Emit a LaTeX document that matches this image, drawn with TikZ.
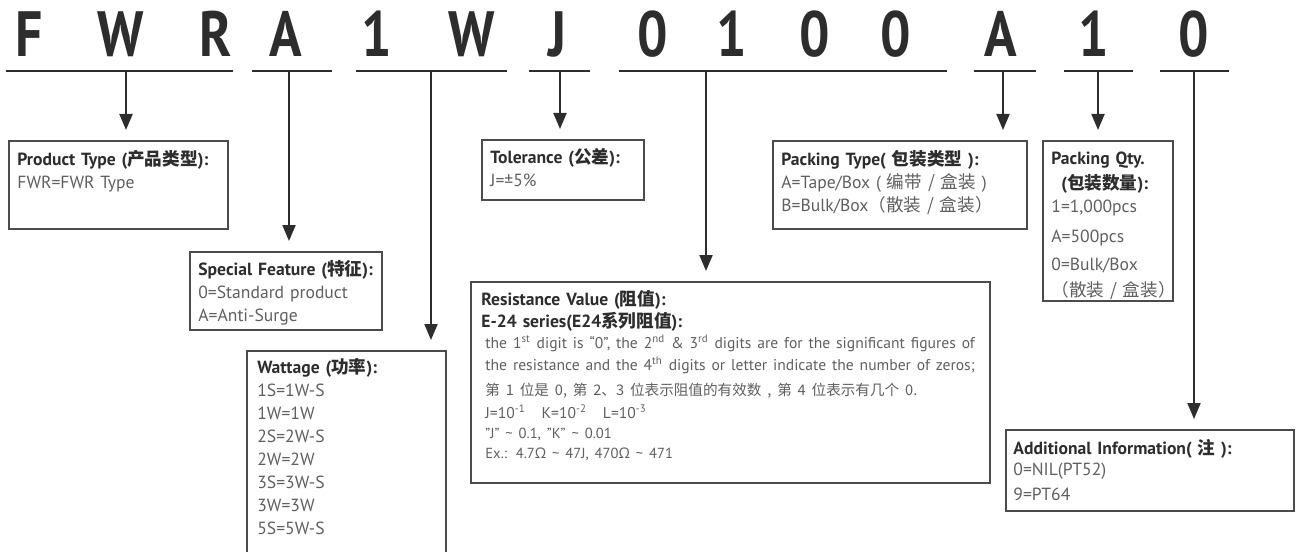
\documentclass[tikz,border=0pt]{standalone}
\usepackage{fontspec}
\usepackage{xcolor}
\usepackage{graphicx}
\usepackage{tikz}
\usetikzlibrary{positioning,arrows.meta,calc}
\setmainfont{PT Sans}
\newfontfamily\cjk{Noto Sans CJK SC}
\newfontfamily\grk{Open Sans}
\definecolor{ink}{RGB}{45,45,45}
\definecolor{txt}{RGB}{95,95,97}
\definecolor{frm}{RGB}{75,75,75}
\newcommand{\zh}[1]{{\cjk #1}}
\newcommand{\hd}[1]{{\bfseries\color{ink}#1}}
\newcommand{\cond}[1]{\scalebox{0.84}[1]{\bfseries #1}}

\begin{document}
\begin{tikzpicture}[x=0.5pt,y=-0.5pt,>={Triangle[length=8pt,width=6.5pt]},
  code/.style={font=\fontsize{32}{32}\selectfont,text=ink,inner sep=0pt,anchor=base},
  uline/.style={draw=ink,line width=1.2pt},
  arr/.style={->,draw=ink,line width=1pt,shorten >=5pt},
  box/.style={draw=frm,line width=0.8pt,anchor=north west,inner sep=0pt},
  txt/.style={text=txt,inner sep=0pt,anchor=base west,align=left,
              font=\fontsize{8.8}{11.5}\selectfont}]
  \useasboundingbox (0,0) rectangle (1305,551);
  \clip (0,0) rectangle (1305,551);

  % ---------- part number ----------
  \foreach \ch/\xx [count=\i] in {F/29,W/121,R/216,A/286,1/377,W/472,J/557,0/653,1/732,0/815,0/896,A/1001,1/1094,0/1194}
    \node[code] (c\i) at (\xx,57) {\cond{\ch}};
  \foreach \a/\b in {6/233,252/332,356/507,529/590,619/947,974/1036,1064/1133,1160/1229}
    \draw[uline] (\a,71) -- (\b,71);
  \coordinate (gFWR) at (126,71);
  \coordinate (gA) at (289,71);
  \coordinate (gW) at (431,71);
  \coordinate (gJ) at (560,71);
  \coordinate (gR) at (706,71);
  \coordinate (gPT) at (1003,71);
  \coordinate (gPQ) at (1098,71);
  \coordinate (gAI) at (1194,71);

  % ---------- boxes ----------
  \node[box,minimum width=109.5pt,minimum height=44pt] (ptype) at (8,140) {};
  \node[txt,text width=105pt] (ptypet) at ([shift={(9,25)}]ptype.north west)
    {\hd{Product Type (\zh{产品类型}):}\\FWR=FWR Type};

  \node[box,minimum width=96pt,minimum height=39pt] (feat) at (189,251) {};
  \node[txt,text width=92pt] (featt) at ([shift={(9,24)}]feat.north west)
    {\hd{Special Feature (\zh{特征}):}\\0=Standard product\\A=Anti-Surge};

  \node[box,minimum width=99.5pt,minimum height=110pt] (watt) at (246,350) {};
  \node[txt,text width=94pt] (wattt) at ([shift={(11,23)}]watt.north west)
    {\hd{Wattage (\zh{功率}):}\\1S=1W-S\\1W=1W\\2S=2W-S\\2W=2W\\3S=3W-S\\3W=3W\\5S=5W-S};

  \node[box,minimum width=81pt,minimum height=30pt] (tol) at (481,139) {};
  \node[txt,text width=76pt] (tolt) at ([shift={(9,24)}]tol.north west)
    {\hd{Tolerance (\zh{公差}):}\\J=±5\%};

  \node[box,minimum width=259.5pt,minimum height=100.5pt] (res) at (470,281) {};
  \node[txt,text width=256pt,font=\fontsize{8.8}{10}\selectfont] (rest) at ([shift={(11,24)}]res.north west)
    {\hd{Resistance Value (\zh{阻值}):}\\[1pt]
     \hd{E-24 series(E24\zh{系列阻值}):}\\[0.5pt]
     {\fontsize{7.8}{10}\selectfont\hspace*{2pt}the 1\textsuperscript{st} digit is “0”, the 2\textsuperscript{nd} \& 3\textsuperscript{rd} digits are for the significant figures of}\\[1pt]
     {\fontsize{7.8}{10}\selectfont\hspace*{2pt}the resistance and the 4\textsuperscript{th} digits or letter indicate the number of zeros;}\\[2.5pt]
     {\fontsize{7.3}{10}\selectfont\hspace*{2pt}\zh{第 1 位是 0, 第 2、3 位表示阻值的有效数 , 第 4 位表示有几个 0.}}\\[1.5pt]
     {\fontsize{7.8}{10}\selectfont\hspace*{2pt}J=10\textsuperscript{-1}\hspace{8pt}K=10\textsuperscript{-2}\hspace{8pt}L=10\textsuperscript{-3}}\\
     {\fontsize{7.3}{10}\selectfont\hspace*{2pt}"J" \textasciitilde{} 0.1, "K" \textasciitilde{} 0.01}\\
     {\fontsize{7.3}{10}\selectfont\hspace*{2pt}Ex.: 4.7{\grk Ω} \textasciitilde{} 47J, 470{\grk Ω} \textasciitilde{} 471}};

  \node[box,minimum width=127pt,minimum height=44pt] (ptp) at (772,140) {};
  \node[txt,text width=122pt] (ptpt) at ([shift={(9,25)}]ptp.north west)
    {\hd{Packing Type(\zh{ 包装类型 }):}\\A=Tape/Box ( \zh{编带 / 盒装} )\\B=Bulk/Box\zh{（散装 / 盒装）}};

  \node[box,minimum width=65pt,minimum height=80pt] (pqty) at (1042,140) {};
  \node[txt,text width=90pt] (pqtyt) at ([shift={(9,24)}]pqty.north west)
    {\hd{Packing Qty.}\\[1pt]\hd{\hspace*{5pt}(\zh{包装数量}):}\\1=1,000pcs\\[3.5pt]A=500pcs\\[2.5pt]0=Bulk/Box\\[1.5pt]\zh{（散装 / 盒装）}};

  \node[box,minimum width=144pt,minimum height=40.5pt] (addi) at (1005,429) {};
  \node[txt,text width=138pt] (addit) at ([shift={(8,25)}]addi.north west)
    {\hd{Additional Information(\zh{ 注 }):}\\[-1pt]0=NIL(PT52)\\[1pt]9=PT64};

  % ---------- arrows ----------
  \draw[arr] (gFWR) -- (gFWR |- ptype.north);
  \draw[arr] (gA) -- (gA |- feat.north);
  \draw[arr] (gW) -- (gW |- watt.north);
  \draw[arr] (gJ) -- (gJ |- tol.north);
  \draw[arr] (gR) -- (gR |- res.north);
  \draw[arr] (gPT) -- (gPT |- ptp.north);
  \draw[arr] (gPQ) -- (gPQ |- pqty.north);
  \draw[arr] (gAI) -- (gAI |- addi.north);
\end{tikzpicture}
\end{document}
